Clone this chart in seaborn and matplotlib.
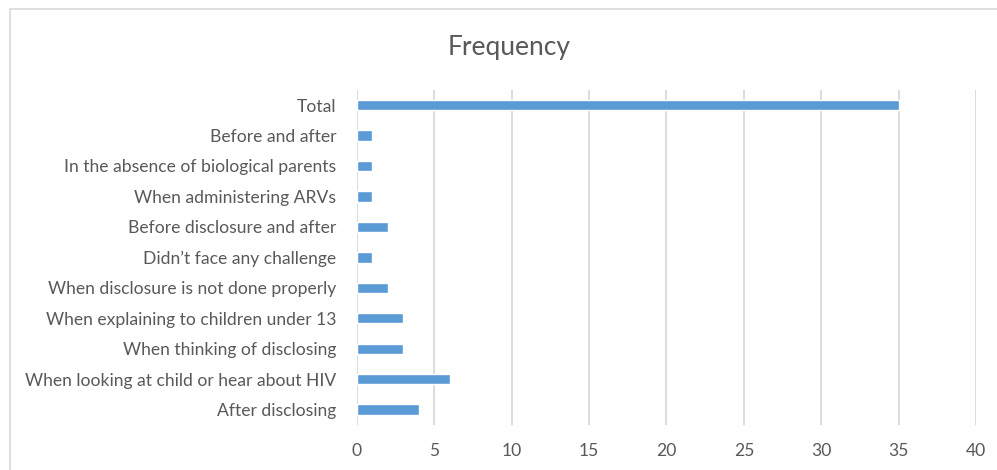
import matplotlib
matplotlib.use("Agg")
import matplotlib.pyplot as plt
from matplotlib.patches import Rectangle
import seaborn as sns
import pandas as pd

categories = [
    "Total",
    "Before and after",
    "In the absence of biological parents",
    "When administering ARVs",
    "Before disclosure and after",
    "Didn\u2019t face any challenge",
    "When disclosure is not done properly",
    "When explaining to children under 13",
    "When thinking of disclosing",
    "When looking at child or hear about HIV",
    "After disclosing",
]
frequency = [35, 1, 1, 1, 2, 1, 2, 3, 3, 6, 4]
x_ticks = [0, 5, 10, 15, 20, 25, 30, 35, 40]

df = pd.DataFrame({"category": categories, "frequency": frequency})

sns.set_style("white")
plt.rcParams["font.family"] = ["Lato", "DejaVu Sans"]

text_color = "#595959"
grid_color = "#D9D9D9"
bar_color = "#5B9BD5"

fig = plt.figure(figsize=(9.97, 4.7), dpi=100)
ax = fig.add_axes([0.358, 0.096, 0.621, 0.713])

sns.barplot(data=df, x="frequency", y="category", order=categories,
            color=bar_color, width=0.34, saturation=1, ax=ax)

ax.set_xlim(0, 40)
ax.set_xticks(x_ticks)
ax.set_xticklabels([str(t) for t in x_ticks])
ax.set_xlabel("")
ax.set_ylabel("")
ax.grid(axis="x", color=grid_color, linewidth=1.3)
ax.set_axisbelow(True)
for s in ax.spines.values():
    s.set_visible(False)
ax.tick_params(axis="both", length=0, colors=text_color, labelsize=12.6)
ax.tick_params(axis="x", pad=13)
ax.tick_params(axis="y", pad=15)

fig.text(0.511, 0.9, "Frequency", ha="center", va="center",
         fontsize=19, color=text_color)

# chart area frame
fig.add_artist(Rectangle((10 / 997, -0.2), 2.0, 1.2 - 9 / 470,
                         transform=fig.transFigure, fill=False,
                         edgecolor=grid_color, linewidth=1.2))

fig.savefig("out.png", dpi=100, facecolor="white")
